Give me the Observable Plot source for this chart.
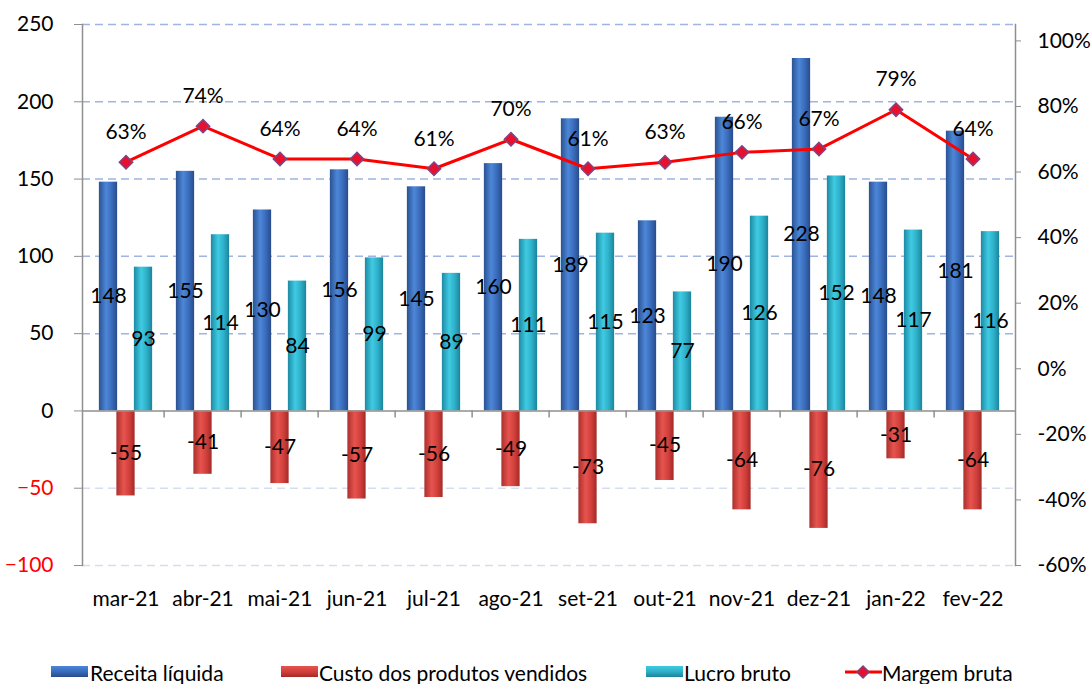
<!DOCTYPE html>
<html>
<head>
<meta charset="utf-8">
<script src="https://cdn.jsdelivr.net/npm/d3@7"></script>
<script src="https://cdn.jsdelivr.net/npm/@observablehq/plot@0.6"></script>
<style>
  body { margin: 0; background: #fff; font-family: Lato, "Open Sans", sans-serif; }
  #wrap { position: relative; width: 1091px; height: 684px; overflow: hidden; background: #fff; }
  #chart { position: absolute; left: 0; top: 0; }
  #title { position: absolute; top: -21px; left: 572px; font-size: 24px; line-height: 24px; font-weight: bold; white-space: nowrap; color: #000; }
  .leg { position: absolute; top: 662px; font-size: 21px; line-height: 21px; white-space: nowrap; color: #000; }
  .sw { position: absolute; top: 666px; width: 37px; height: 11px; }
</style>
</head>
<body>
<div id="wrap">
  <div id="title">(R$ mil)</div>
  <div id="chart"></div>
  <div id="legend"></div>
</div>
<script>
// ---- data ----
const months  = ["mar-21","abr-21","mai-21","jun-21","jul-21","ago-21","set-21","out-21","nov-21","dez-21","jan-22","fev-22"];
const receita = [148,155,130,156,145,160,189,123,190,228,148,181];
const custo   = [-55,-41,-47,-57,-56,-49,-73,-45,-64,-76,-31,-64];
const lucro   = [93,114,84,99,89,111,115,77,126,152,117,116];
const margem  = [63,74,64,64,61,70,61,63,66,67,79,64];
const leftTicksPos = [0,50,100,150,200,250];
const leftTicksNeg = [-100,-50];
const rightTicks = [-60,-40,-20,0,20,40,60,80,100];
const seriesNames = ["Receita líquida","Custo dos produtos vendidos","Lucro bruto","Margem bruta"];

// ---- layout ----
const W = 1091, H = 630, mL = 82, mR = 76, mT = 24, mB = 65;
const bw = (W - mL - mR) / months.length;
const barW = 19, off = 17.5;
const inset = (bw - barW) / 2;
// secondary (percentage) axis mapped onto primary y domain
const pct = d3.scaleLinear([-60, 105], [-100, 250]);
const axisGray = "#8f8f8f";

const grads = {
  gBlue: ["#2a5292", "#4d87d8", "#3a6cbc", "#284c8a"],
  gRed:  ["#ab2f2c", "#e7544f", "#d2403c", "#a32a27"],
  gCyan: ["#1d8aa3", "#3fcbe3", "#2fb0c9", "#1b849c"]
};

function defsMark() {
  const ns = "http://www.w3.org/2000/svg";
  const defs = document.createElementNS(ns, "defs");
  for (const [id, c] of Object.entries(grads)) {
    const lg = document.createElementNS(ns, "linearGradient");
    lg.setAttribute("id", id);
    lg.setAttribute("x1", "0"); lg.setAttribute("x2", "1");
    lg.setAttribute("y1", "0"); lg.setAttribute("y2", "0");
    [[0, c[0]], [0.4, c[1]], [0.7, c[2]], [1, c[3]]].forEach(([o, col]) => {
      const s = document.createElementNS(ns, "stop");
      s.setAttribute("offset", o); s.setAttribute("stop-color", col);
      lg.appendChild(s);
    });
    defs.appendChild(lg);
  }
  return defs;
}

const mx = (d, i) => months[i];

const chart = Plot.plot({
  width: W, height: H,
  marginLeft: mL, marginRight: mR, marginTop: mT, marginBottom: mB,
  style: { fontFamily: "Lato, 'Open Sans', sans-serif", fontSize: "21px", color: "#000", background: "#fff" },
  x: { type: "band", domain: months, padding: 0 },
  y: { domain: [-100, 250] },
  marks: [
    defsMark,
    // grid
    Plot.ruleY([50,100,150,200,250], { stroke: "#9fb4e0", strokeWidth: 1.5, strokeDasharray: "8,5" }),
    Plot.ruleY([-50,-100], { stroke: "#d6ddf0", strokeWidth: 1.5, strokeDasharray: "8,5" }),
    // bars
    Plot.barY(receita, { x: mx, y: d => d, dx: -off, insetLeft: inset, insetRight: inset, fill: "url(#gBlue)" }),
    Plot.barY(custo,   { x: mx, y: d => d, dx: 0,    insetLeft: inset, insetRight: inset, fill: "url(#gRed)" }),
    Plot.barY(lucro,   { x: mx, y: d => d, dx: off,  insetLeft: inset, insetRight: inset, fill: "url(#gCyan)" }),
    // axes lines
    Plot.ruleY([0], { stroke: axisGray, strokeWidth: 1.5 }),
    Plot.ruleX(months.slice(1), { x: d => d, y1: 0, y2: -4.6, dx: -bw / 2, stroke: axisGray, strokeWidth: 1.5 }),
    Plot.frame({ anchor: "left", stroke: axisGray, strokeWidth: 1.5 }),
    Plot.frame({ anchor: "right", stroke: axisGray, strokeWidth: 1.5 }),
    Plot.axisY(leftTicksPos, { anchor: "left", tickSize: 8, tickPadding: 21, stroke: axisGray, fill: "#000", fontSize: 21 }),
    Plot.axisY(leftTicksNeg, { anchor: "left", tickSize: 8, tickPadding: 21, stroke: axisGray, fill: "#ff0000", fontSize: 21 }),
    Plot.axisY(rightTicks.map(v => pct(v)), { anchor: "right", tickSize: 5, tickPadding: 17, stroke: axisGray, fill: "#000", fontSize: 21,
      tickFormat: v => Math.round(pct.invert(v)) + "%" }),
    Plot.axisX({ anchor: "bottom", tickSize: 0, tickPadding: 26, fill: "#000", fontSize: 21 }),
    // bar labels
    Plot.text(receita, { x: mx, y: d => d / 2, dx: -off, text: d => String(d), fontSize: 21, fill: "#000" }),
    Plot.text(custo,   { x: mx, y: d => d / 2, dx: 0,    text: d => String(d), fontSize: 21, fill: "#000" }),
    Plot.text(lucro,   { x: mx, y: d => d / 2, dx: off,  text: d => String(d), fontSize: 21, fill: "#000" }),
    // margin line
    Plot.line(margem, { x: mx, y: d => pct(d), stroke: "#ff0000", strokeWidth: 3 }),
    Plot.dot(margem, { x: mx, y: d => pct(d), symbol: "diamond2", r: 6, fill: "#e8112d", stroke: "#7d4585", strokeWidth: 1.5 }),
    Plot.text(margem, { x: mx, y: d => pct(d), dy: -30, text: d => d + "%", fontSize: 21, fill: "#000" })
  ]
});
document.getElementById("chart").appendChild(chart);

// ---- legend ----
const legend = document.getElementById("legend");
const legItems = [
  { sx: 51, tx: 90, kind: "bar", g: grads.gBlue },
  { sx: 281, tx: 319, kind: "bar", g: grads.gRed },
  { sx: 646, tx: 684, kind: "bar", g: grads.gCyan },
  { sx: 845, tx: 882, kind: "line" }
];
legItems.forEach((it, i) => {
  if (it.kind === "bar") {
    const s = document.createElement("div");
    s.className = "sw";
    s.style.left = it.sx + "px";
    s.style.background = `linear-gradient(to bottom, ${it.g[1]} 0%, ${it.g[2]} 50%, ${it.g[3]} 100%)`;
    legend.appendChild(s);
  } else {
    const ns = "http://www.w3.org/2000/svg";
    const svg = document.createElementNS(ns, "svg");
    svg.setAttribute("width", 38); svg.setAttribute("height", 20);
    svg.style.position = "absolute"; svg.style.left = it.sx + "px"; svg.style.top = "662px";
    svg.innerHTML = '<line x1="0" y1="10" x2="37" y2="10" stroke="#ff0000" stroke-width="3"/>' +
      '<path d="M18,4 L24,10 L18,16 L12,10 Z" fill="#e8112d" stroke="#7d4585" stroke-width="1.5"/>';
    legend.appendChild(svg);
  }
  const t = document.createElement("div");
  t.className = "leg";
  t.style.left = it.tx + "px";
  t.textContent = seriesNames[i];
  legend.appendChild(t);
});
</script>
</body>
</html>
